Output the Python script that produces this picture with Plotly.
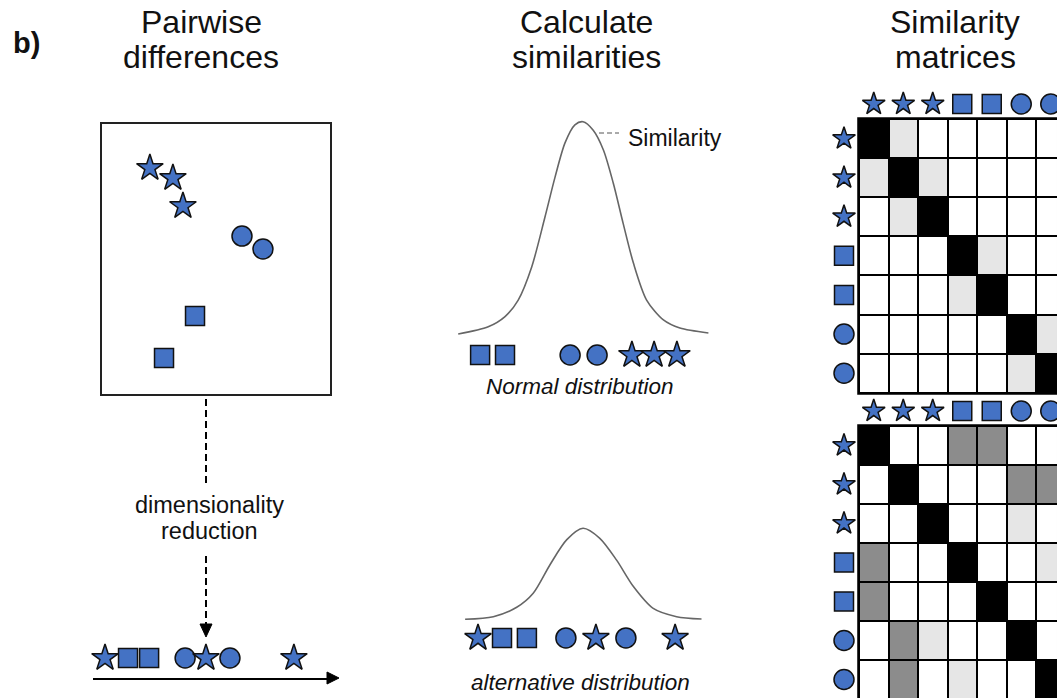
import plotly.graph_objects as go

W, H = 1057, 698
BLUE = "#4472C4"
EDGE = "#111111"

# ---------------- data ----------------
shape_labels = ["star", "star", "star", "square", "square", "circle", "circle"]

# 2-D feature space (pairwise differences panel)
pts2d_x = [2.1, 3.11, 3.55, 6.14, 7.06, 4.08, 2.72]
pts2d_y = [8.37, 8.0, 6.96, 5.85, 5.37, 2.89, 1.33]
pts2d_sym = ["star", "star", "star", "circle", "circle", "square", "square"]

# 1-D embedding after dimensionality reduction
emb_x = [0.49, 1.43, 2.29, 3.76, 4.61, 5.59, 8.2]
emb_sym = ["star", "square", "square", "circle", "star", "circle", "star"]

# normal distribution curve
norm_x = [-4.16, -3.16, -2.6, -2.16, -1.71, -1.27, -0.93, -0.6, -0.27, 0.0,
          0.34, 0.68, 1.01, 1.34, 1.68, 2.12, 2.68, 3.23, 4.18]
norm_h = [0.0, 0.034, 0.082, 0.16, 0.316, 0.55, 0.74, 0.9, 0.985, 1.0,
          0.96, 0.867, 0.71, 0.52, 0.334, 0.16, 0.066, 0.028, 0.005]
norm_pts_x = [-3.43, -2.6, -0.43, 0.47, 1.63, 2.37, 3.13]
norm_pts_sym = ["square", "square", "circle", "circle", "star", "star", "star"]

# alternative distribution curve
alt_x = [-3.93, -2.99, -2.21, -1.66, -1.1, -0.54, 0.0, 0.56, 1.12, 1.68, 2.34, 3.12, 3.95]
alt_h = [0.0, 0.029, 0.132, 0.286, 0.6, 0.875, 1.0, 0.89, 0.65, 0.36, 0.12, 0.029, 0.003]
alt_pts_x = [-3.5, -2.7, -1.87, -0.57, 0.43, 1.43, 3.07]
alt_pts_sym = ["star", "square", "square", "circle", "star", "circle", "star"]

# similarity matrices: 0 white, 1 light grey, 2 grey, 3 black
mat_top = [
    [3, 1, 0, 0, 0, 0, 0],
    [1, 3, 1, 0, 0, 0, 0],
    [0, 1, 3, 0, 0, 0, 0],
    [0, 0, 0, 3, 1, 0, 0],
    [0, 0, 0, 1, 3, 0, 0],
    [0, 0, 0, 0, 0, 3, 1],
    [0, 0, 0, 0, 0, 1, 3],
]
mat_bot = [
    [3, 0, 0, 2, 2, 0, 0],
    [0, 3, 0, 0, 0, 2, 2],
    [0, 0, 3, 0, 0, 1, 0],
    [2, 0, 0, 3, 0, 0, 1],
    [2, 0, 0, 0, 3, 0, 0],
    [0, 2, 1, 0, 0, 3, 0],
    [0, 2, 0, 1, 0, 0, 3],
]

# ---------------- helpers ----------------
def fx(px):
    return px / W

def fy(py):
    return 1 - py / H

SIZE = {"star": 20, "square": 19, "circle": 20}
SIZE_MAT = {"star": 17, "square": 19, "circle": 20}

def marker(syms, sizes=SIZE):
    return dict(symbol=syms, size=[sizes[s] for s in syms], color=BLUE, opacity=1,
                line=dict(color=EDGE, width=1.5))

def hidden_axis(**kw):
    d = dict(visible=False, showgrid=False, zeroline=False, fixedrange=True)
    d.update(kw)
    return d

fig = go.Figure()
layout = dict(width=W, height=H, autosize=False, margin=dict(l=0, r=0, t=0, b=0, pad=0),
              paper_bgcolor="white", plot_bgcolor="rgba(0,0,0,0)", showlegend=False)

# ---- panel 1 : 2-D scatter box ----
fig.add_trace(go.Scatter(x=pts2d_x, y=pts2d_y, mode="markers", marker=marker(pts2d_sym),
                         xaxis="x", yaxis="y", cliponaxis=False, hoverinfo="skip"))
box_ax = dict(showgrid=False, zeroline=False, showticklabels=False, ticks="",
              showline=True, mirror=True, linecolor="#222", linewidth=2, range=[0, 10])
layout["xaxis"] = dict(box_ax, domain=[fx(102), fx(330)], anchor="y")
layout["yaxis"] = dict(box_ax, domain=[fy(394), fy(124)], anchor="x")

# ---- panel 1b : 1-D embedding ----
fig.add_trace(go.Scatter(x=emb_x, y=[0.526] * len(emb_x), mode="markers", marker=marker(emb_sym),
                         xaxis="x2", yaxis="y2", cliponaxis=False, hoverinfo="skip"))
layout["xaxis2"] = dict(domain=[fx(93), fx(330)], anchor="y2", range=[0, 10 * (330 - 93) / (338 - 93)],
                        showgrid=False, zeroline=False, showticklabels=False, ticks="",
                        showline=True, linecolor="black", linewidth=2)
layout["yaxis2"] = hidden_axis(domain=[fy(678), fy(640)], anchor="x2", range=[0, 1])

# ---- panel 2 : normal / alternative distributions ----
def curve_panel(n, xs, hs, pxs, syms, base_px, peak_px, pts_h, lo):
    xa, ya = f"x{n}", f"y{n}"
    fig.add_trace(go.Scatter(x=xs, y=hs, mode="lines",
                             line=dict(color="#666666", width=1.6, shape="spline", smoothing=0.8),
                             xaxis=xa, yaxis=ya, hoverinfo="skip", cliponaxis=False))
    fig.add_trace(go.Scatter(x=pxs, y=[pts_h] * len(pxs), mode="markers", marker=marker(syms),
                             xaxis=xa, yaxis=ya, cliponaxis=False, hoverinfo="skip"))
    span = base_px - peak_px
    bottom_px = base_px - lo * span
    layout[f"xaxis{n}"] = hidden_axis(domain=[fx(458), fx(710)], anchor=ya, range=[-4.167, 4.233])
    layout[f"yaxis{n}"] = hidden_axis(domain=[fy(bottom_px), fy(peak_px - 12)], anchor=xa,
                                      range=[lo, 1 + 12 / span])

curve_panel(3, norm_x, norm_h, norm_pts_x, norm_pts_sym, 334.0, 121.7, -0.099, -0.16)
curve_panel(4, alt_x, alt_h, alt_pts_x, alt_pts_sym, 619.3, 528.3, -0.205, -0.33)

# ---- panel 3 : similarity matrices ----
CW, RH = 29.5, 39.1
LEFT = 859.0
cs = [[0, "#ffffff"], [0.1667, "#ffffff"], [0.1667, "#e6e6e6"], [0.5, "#e6e6e6"],
      [0.5, "#8c8c8c"], [0.8333, "#8c8c8c"], [0.8333, "#000000"], [1, "#000000"]]
idx = list(range(7))
shapes = []
XMIN = -1.6
for k, (mat, top, ymax) in enumerate([(mat_top, 119.0, 6.55), (mat_bot, 426.0, None)]):
    xa, ya = f"x{5 + k}", f"y{5 + k}"
    rh = RH if k == 0 else 39.0
    fig.add_trace(go.Heatmap(z=mat, x=idx, y=idx, zmin=0, zmax=3, colorscale=cs, showscale=False,
                             xgap=2, ygap=2, xaxis=xa, yaxis=ya, hoverinfo="skip"))
    xmax = (W - LEFT) / CW - 0.5
    layout[f"xaxis{5 + k}"] = hidden_axis(domain=[fx(LEFT + (XMIN + 0.5) * CW), 1.0], anchor=ya,
                                          range=[XMIN, xmax])
    YMIN = -1.3
    if ymax is None:
        ymax = (H - top) / rh - 0.5
    top_px = top + (YMIN + 0.5) * rh
    bot_px = min(top + (ymax + 0.5) * rh, H)
    layout[f"yaxis{5 + k}"] = hidden_axis(domain=[max(fy(bot_px), 0), fy(top_px)], anchor=xa,
                                          range=[ymax, YMIN])
    shapes.append(dict(type="rect", xref=xa, yref=ya, x0=-0.56, x1=7.0, y0=-0.545, y1=7.0,
                       fillcolor="black", line=dict(width=0), layer="below"))
    # header icons (columns) and row icons
    fig.add_trace(go.Scatter(x=idx, y=[-0.5 - 15 / rh] * 7, mode="markers",
                             marker=marker(shape_labels, SIZE_MAT), xaxis=xa, yaxis=ya,
                             cliponaxis=False, hoverinfo="skip"))
    fig.add_trace(go.Scatter(x=[-0.5 - 15 / CW] * 7, y=idx, mode="markers",
                             marker=marker(shape_labels, SIZE_MAT), xaxis=xa, yaxis=ya,
                             cliponaxis=False, hoverinfo="skip"))

# ---- decorations: dashed arrow, axis arrow, leader ----
def pline(x0, y0, x1, y1, **kw):
    d = dict(type="line", xref="paper", yref="paper", x0=fx(x0), y0=fy(y0), x1=fx(x1), y1=fy(y1))
    d.update(kw)
    return d

def tri(pts):
    path = "M " + " L ".join(f"{fx(a)} {fy(b)}" for a, b in pts) + " Z"
    return dict(type="path", xref="paper", yref="paper", path=path, fillcolor="black",
                line=dict(color="black", width=1))

shapes += [
    pline(206, 399, 206, 484, line=dict(color="black", width=2, dash="7px,4px")),
    pline(206, 556, 206, 625, line=dict(color="black", width=2, dash="7px,4px")),
    tri([(200, 624), (212, 624), (206, 637)]),
    tri([(327, 672), (327, 684), (339, 678)]),
    pline(599, 133, 619, 133, line=dict(color="#555", width=1, dash="5px,3px")),
]
layout["shapes"] = shapes

FONT = "Liberation Sans, Arial, sans-serif"

def ann(text, x, y, size, xanchor="center", color="#111"):
    return dict(text=text, x=fx(x), y=fy(y), xref="paper", yref="paper", showarrow=False,
                xanchor=xanchor, yanchor="middle", font=dict(family=FONT, size=size, color=color))

TS = 32
layout["annotations"] = [
    ann("<b>b)</b>", 26, 43, 29),
    ann("Pairwise", 201, 22.5, TS), ann("differences", 201, 57, TS),
    ann("Calculate", 586, 22.5, TS), ann("similarities", 586, 57, TS),
    ann("Similarity", 955, 22.5, TS), ann("matrices", 955, 57, TS),
    ann("dimensionality", 209, 505, 23.5),
    ann("reduction", 209, 531, 23.5),
    ann("Similarity", 626, 138, 23, xanchor="left"),
    ann("<i>Normal distribution</i>", 580, 386, 22.5),
    ann("<i>alternative distribution</i>", 580, 682, 22.5),
]

fig.update_layout(**layout)
# remove the default 8px page margin so the figure fills the window exactly
fig.write_html("out.html", config={"displayModeBar": False},
               post_script="document.body.style.margin='0px';")
